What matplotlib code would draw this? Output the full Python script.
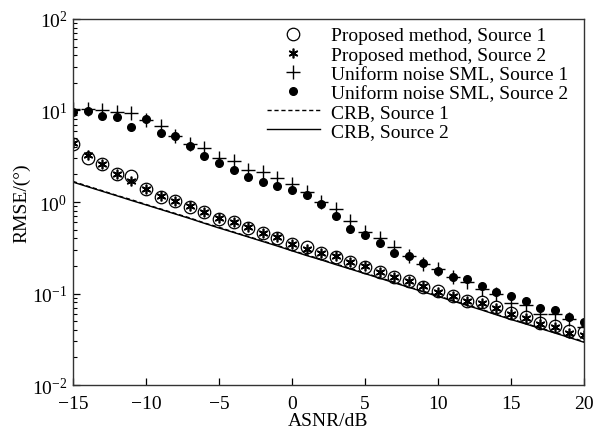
import matplotlib
matplotlib.use("Agg")
import matplotlib.pyplot as plt
import numpy as np
from matplotlib.ticker import LogLocator, NullFormatter

plt.rcParams['font.family'] = ['Liberation Serif', 'DejaVu Serif']
plt.rcParams['mathtext.fontset'] = 'stix'

# ASNR in dB, one point per dB
asnr = list(range(-15, 21))

# Proposed method
prop_s1 = [4.3, 3.05, 2.6, 2.0, 1.9, 1.38, 1.13, 1.03, 0.88, 0.78, 0.66, 0.60,
           0.52, 0.46, 0.40, 0.35, 0.32, 0.28, 0.25, 0.22, 0.195, 0.172, 0.152,
           0.137, 0.118, 0.106, 0.094, 0.083, 0.081, 0.071, 0.061, 0.055, 0.048,
           0.044, 0.039, 0.038]
prop_s2 = [4.4, 3.3, 2.6, 2.0, 1.7, 1.38, 1.15, 1.02, 0.90, 0.78, 0.67, 0.61,
           0.53, 0.46, 0.41, 0.35, 0.31, 0.28, 0.26, 0.22, 0.20, 0.17, 0.15,
           0.136, 0.12, 0.104, 0.093, 0.082, 0.079, 0.070, 0.059, 0.054, 0.047,
           0.043, 0.037, 0.035]

# Uniform noise SML
sml_s1 = [10.4, 10.4, 10.1, 9.6, 9.4, 7.9, 6.8, 5.3, 4.3, 3.9, 3.0, 2.8,
          2.24, 2.13, 1.83, 1.57, 1.29, 1.0, 0.84, 0.62, 0.47, 0.40, 0.32,
          0.26, 0.21, 0.185, 0.152, 0.134, 0.112, 0.099, 0.079, 0.075, 0.060,
          0.060, 0.053, 0.043]
sml_s2 = [9.6, 9.8, 8.7, 8.5, 6.6, 8.1, 5.7, 5.3, 4.1, 3.18, 2.67, 2.24,
          1.88, 1.65, 1.50, 1.35, 1.19, 0.95, 0.70, 0.51, 0.44, 0.36, 0.28,
          0.257, 0.215, 0.176, 0.152, 0.144, 0.121, 0.104, 0.094, 0.083, 0.070,
          0.066, 0.055, 0.049]

# CRB
crb_s1 = [1.68, 1.49, 1.33, 1.18, 1.06, 0.94, 0.84, 0.75, 0.67, 0.59, 0.53,
          0.47, 0.42, 0.375, 0.335, 0.297, 0.264, 0.236, 0.21, 0.188, 0.167,
          0.149, 0.133, 0.118, 0.106, 0.094, 0.084, 0.075, 0.067, 0.059,
          0.053, 0.047, 0.042, 0.0375, 0.0335, 0.0298]
crb_s2 = [1.65, 1.47, 1.31, 1.17, 1.04, 0.93, 0.83, 0.74, 0.66, 0.585, 0.52,
          0.465, 0.415, 0.37, 0.33, 0.293, 0.26, 0.233, 0.207, 0.185, 0.165,
          0.147, 0.131, 0.117, 0.104, 0.093, 0.083, 0.074, 0.066, 0.0585,
          0.052, 0.0465, 0.0415, 0.037, 0.033, 0.0293]

fig = plt.figure(figsize=(6.03, 4.31), dpi=100)
ax = fig.add_axes([0.121, 0.1044, 0.8475, 0.8492])

ax.plot(asnr, prop_s1, linestyle='none', marker='o', markersize=9,
        markerfacecolor='none', markeredgecolor='black', markeredgewidth=0.9,
        label='Proposed method, Source 1')
ax.plot(asnr, prop_s2, linestyle='none', marker=(6, 2, 0), markersize=7,
        color='black', markeredgewidth=1.2, label='Proposed method, Source 2')
ax.plot(asnr, sml_s1, linestyle='none', marker='+', markersize=10,
        color='black', markeredgewidth=1.0, label='Uniform noise SML, Source 1')
ax.plot(asnr, sml_s2, linestyle='none', marker='o', markersize=5.5,
        color='black', label='Uniform noise SML, Source 2')
ax.plot(asnr, crb_s1, linestyle=(0, (3, 2)), color='black', linewidth=1.0,
        label='CRB, Source 1')
ax.plot(asnr, crb_s2, linestyle='-', color='black', linewidth=1.0,
        label='CRB, Source 2')

ax.set_yscale('log')
ax.set_xlim(-15, 20)
ax.set_ylim(1e-2, 1e2)
ax.set_xticks([-15, -10, -5, 0, 5, 10, 15, 20])
ax.set_xticklabels(['\u221215', '\u221210', '\u22125', '0', '5', '10', '15', '20'])
ax.yaxis.set_major_locator(LogLocator(base=10, numticks=10))
ax.yaxis.set_minor_locator(LogLocator(base=10, subs=np.arange(2, 10), numticks=10))
ax.yaxis.set_minor_formatter(NullFormatter())

ax.tick_params(axis='both', which='both', direction='in', top=False, right=False,
               labelsize=14)
ax.tick_params(axis='x', which='major', pad=7)
ax.tick_params(axis='y', which='major', pad=4)
ax.tick_params(axis='both', which='major', length=5, width=0.9)
ax.tick_params(axis='y', which='minor', length=3, width=0.8)
for s in ax.spines.values():
    s.set_linewidth(1.0)
    s.set_color('#333333')

ax.set_xlabel('ASNR/dB', fontsize=14, labelpad=0)
ax.set_ylabel('RMSE/(°)', fontsize=14, labelpad=1)

ax.legend(loc='upper right', frameon=False, fontsize=14, handlelength=2.7,
          handletextpad=0.6, labelspacing=0.08, borderaxespad=0.0,
          bbox_to_anchor=(0.985, 1.0))

fig.savefig('out.png', dpi=100)
